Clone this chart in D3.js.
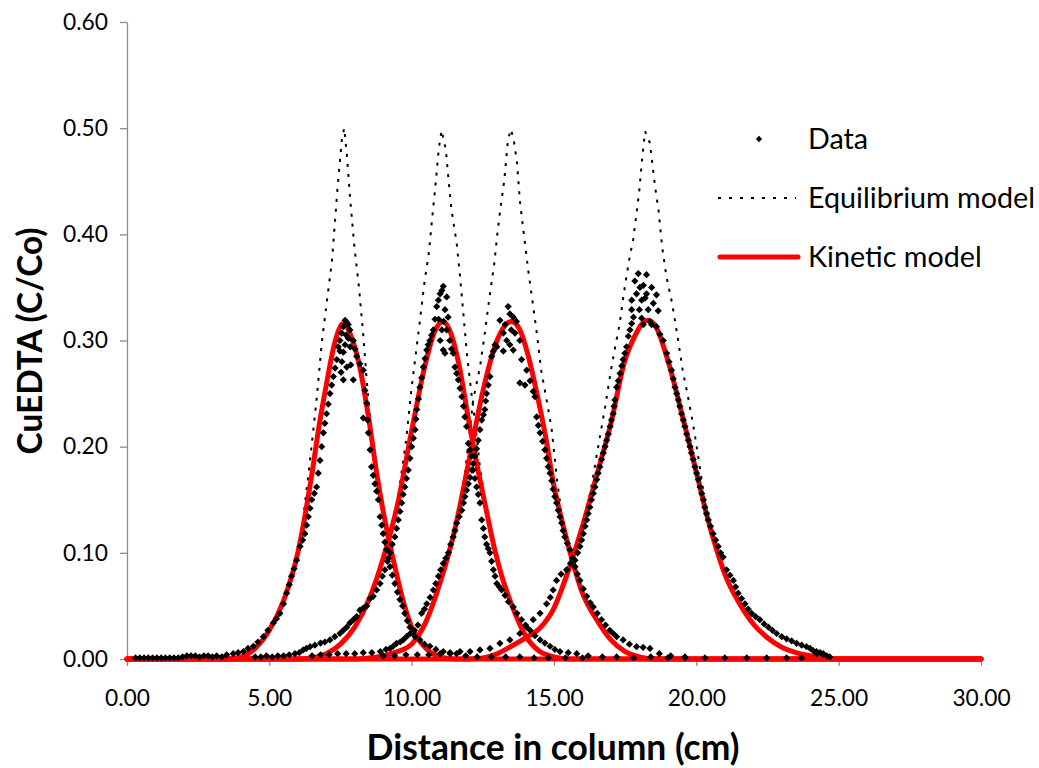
<!DOCTYPE html>
<html><head><meta charset="utf-8">
<script src="https://cdn.jsdelivr.net/npm/d3@7"></script>
<style>body{margin:0;background:#fff}svg{display:block}</style>
</head><body>
<svg id="chart" width="1039" height="768"></svg>
<script>
// ---------- data ----------
const xTicks = [0, 5, 10, 15, 20, 25, 30];
const yTicks = [0, 0.1, 0.2, 0.3, 0.4, 0.5, 0.6];
const legendNames = ["Data", "Equilibrium model", "Kinetic model"];
const xTitle = "Distance in column (cm)";
const yTitle = "CuEDTA (C/Co)";

const kinetic1 = [[0,0],[3.5,0],[4.0,0.002],[4.5,0.010],[5.0,0.027],[5.5,0.055],[6.0,0.100],[6.5,0.175],[6.75,0.220],[7.0,0.258],[7.3,0.298],[7.6,0.316],[7.9,0.302],[8.2,0.272],[8.5,0.225],[8.8,0.170],[9.1,0.125],[9.4,0.088],[9.7,0.055],[10.0,0.030],[10.5,0.010],[11.0,0.002],[11.5,0],[30,0]];
const kinetic2 = [[0,0],[6.0,0],[6.5,0.001],[7.0,0.005],[7.5,0.014],[8.0,0.030],[8.5,0.056],[9.0,0.095],[9.5,0.145],[10.0,0.215],[10.5,0.280],[10.8,0.308],[11.1,0.318],[11.4,0.305],[11.7,0.272],[12.0,0.225],[12.3,0.182],[12.6,0.143],[12.9,0.105],[13.2,0.075],[13.5,0.052],[14.0,0.022],[14.5,0.007],[15.0,0.002],[15.5,0],[30,0]];
const kinetic3 = [[0,0],[8.0,0],[8.5,0.001],[9.0,0.003],[9.5,0.007],[10.0,0.014],[10.5,0.035],[11.0,0.072],[11.5,0.120],[12.0,0.185],[12.5,0.252],[13.0,0.300],[13.5,0.318],[13.8,0.310],[14.1,0.285],[14.4,0.250],[14.7,0.210],[15.0,0.163],[15.3,0.128],[15.6,0.097],[16.0,0.062],[16.5,0.037],[17.0,0.018],[17.5,0.007],[18.0,0.002],[18.5,0],[30,0]];
const kinetic4 = [[0,0],[12.0,0],[12.5,0.001],[13.0,0.005],[13.5,0.012],[14.0,0.020],[14.5,0.029],[15.0,0.048],[15.5,0.083],[16.0,0.125],[16.5,0.173],[17.0,0.222],[17.5,0.282],[17.8,0.302],[18.1,0.316],[18.3,0.319],[18.6,0.312],[18.9,0.290],[19.2,0.262],[19.5,0.230],[19.8,0.198],[20.1,0.165],[20.4,0.132],[20.7,0.104],[21.0,0.080],[21.5,0.053],[22.0,0.033],[22.5,0.020],[23.0,0.011],[23.5,0.006],[24.0,0.003],[24.5,0.001],[25.0,0],[30,0]];

const equil1 = [[3.5,0],[4.0,0.002],[4.5,0.010],[5.0,0.027],[5.5,0.055],[6.0,0.100],[6.2,0.135],[6.4,0.180],[6.66,0.244],[6.85,0.300],[7.0,0.332],[7.2,0.375],[7.4,0.445],[7.55,0.490],[7.63,0.500],[7.72,0.476],[7.85,0.430],[8.0,0.385],[8.15,0.350],[8.3,0.305],[8.42,0.263],[8.55,0.222],[8.7,0.185],[8.85,0.162],[9.1,0.125],[9.4,0.088],[9.7,0.055],[10.0,0.030],[10.5,0.010],[11.0,0.002],[11.5,0]];
const equil2 = [[6.0,0],[6.5,0.001],[7.0,0.005],[7.5,0.014],[8.0,0.030],[8.5,0.056],[9.0,0.095],[9.5,0.148],[9.8,0.205],[10.0,0.256],[10.25,0.310],[10.45,0.355],[10.6,0.382],[10.72,0.415],[10.85,0.450],[10.95,0.480],[11.05,0.498],[11.2,0.480],[11.3,0.450],[11.4,0.423],[11.58,0.392],[11.7,0.360],[11.82,0.324],[11.95,0.285],[12.1,0.250],[12.22,0.225],[12.4,0.180],[12.6,0.145],[12.9,0.105],[13.2,0.075],[13.5,0.052],[14.0,0.022],[14.5,0.007],[15.0,0.002],[15.5,0]];
const equil3 = [[8.0,0],[8.5,0.001],[9.0,0.003],[9.5,0.007],[10.0,0.014],[10.5,0.035],[11.0,0.072],[11.5,0.122],[11.85,0.170],[12.0,0.205],[12.16,0.244],[12.4,0.275],[12.57,0.307],[12.75,0.344],[12.9,0.372],[13.0,0.398],[13.12,0.425],[13.25,0.450],[13.38,0.488],[13.48,0.499],[13.58,0.490],[13.7,0.468],[13.8,0.432],[13.95,0.398],[14.1,0.365],[14.27,0.332],[14.4,0.306],[14.55,0.272],[14.8,0.235],[14.92,0.216],[15.1,0.170],[15.3,0.130],[15.6,0.097],[16.0,0.062],[16.5,0.037],[17.0,0.018],[17.5,0.007],[18.0,0.002],[18.5,0]];
const equil4 = [[12.0,0],[12.5,0.001],[13.0,0.005],[13.5,0.012],[14.0,0.020],[14.5,0.029],[15.0,0.048],[15.5,0.083],[16.0,0.125],[16.3,0.160],[16.61,0.209],[16.8,0.238],[17.0,0.272],[17.15,0.294],[17.32,0.318],[17.45,0.344],[17.64,0.376],[17.78,0.395],[17.9,0.420],[18.0,0.442],[18.08,0.467],[18.2,0.497],[18.37,0.486],[18.55,0.445],[18.67,0.423],[18.8,0.388],[18.95,0.360],[19.15,0.335],[19.35,0.302],[19.52,0.272],[19.7,0.248],[19.9,0.219],[20.07,0.190],[20.3,0.148],[20.5,0.122],[20.7,0.104],[21.0,0.080],[21.5,0.053],[22.0,0.033],[22.5,0.020],[23.0,0.011],[23.5,0.006],[24.0,0.003],[24.5,0.001],[25.0,0]];

const data1 = [[0.3,0.001],[0.45,0.001],[0.6,0.001],[0.75,0.001],[0.9,0.001],[1.05,0.001],[1.2,0.001],[1.35,0.001],[1.5,0.001],[1.65,0.001],[1.8,0.001],[1.95,0.002],[2.1,0.003],[2.25,0.003],[2.4,0.003],[2.55,0.002],[2.7,0.003],[2.85,0.003],[3.0,0.002],[3.15,0.003],[3.33,0.002],[3.5,0.004],[3.73,0.005],[3.9,0.006],[4.09,0.007],[4.25,0.010],[4.44,0.012],[4.6,0.016],[4.79,0.021],[4.95,0.027],[5.14,0.034],[5.25,0.038],[5.37,0.043],[5.5,0.052],[5.61,0.062],[5.7,0.070],[5.78,0.078],[5.87,0.085],[5.96,0.093],[6.08,0.106],[6.17,0.112],[6.25,0.118],[6.31,0.126],[6.37,0.134],[6.43,0.142],[6.49,0.150],[6.58,0.156],[6.66,0.162],[6.72,0.175],[6.78,0.187],[6.84,0.200],[6.90,0.213],[6.95,0.222],[7.01,0.231],[7.07,0.240],[7.13,0.250],[7.19,0.258],[7.25,0.266],[7.31,0.274],[7.37,0.282],[7.42,0.294],[7.48,0.300],[7.54,0.307],[7.60,0.313],[7.66,0.319],[7.72,0.317],[7.77,0.315],[7.83,0.310],[7.60,0.263],[7.95,0.263],[7.72,0.275],[7.86,0.277],[7.60,0.289],[7.84,0.294],[7.48,0.290],[7.55,0.280],[7.66,0.296],[7.78,0.302],[7.70,0.305],[7.52,0.270],[7.95,0.300],[8.01,0.292],[8.07,0.285],[8.18,0.278],[8.30,0.272],[8.36,0.253],[8.42,0.241],[8.30,0.227],[8.45,0.225],[8.48,0.213],[8.54,0.197],[8.59,0.181],[8.65,0.173],[8.71,0.165],[8.77,0.158],[8.83,0.150],[8.89,0.134],[8.95,0.126],[9.00,0.118],[9.06,0.110],[9.12,0.103],[9.18,0.095],[9.24,0.087],[9.32,0.079],[9.41,0.071],[9.50,0.063],[9.59,0.056],[9.68,0.050],[9.76,0.043],[9.85,0.036],[9.94,0.030],[10.03,0.025],[10.12,0.021],[10.29,0.018],[10.45,0.014],[10.64,0.012],[10.85,0.009],[11.11,0.007],[11.35,0.006],[11.58,0.005],[11.9,0.003],[12.3,0.002],[12.8,0.002],[13.3,0.002],[13.8,0.002],[14.3,0.001],[14.8,0.001],[15.4,0.001],[16.0,0.001]];
const data2 = [[4.5,0.002],[4.7,0.002],[4.9,0.003],[5.1,0.002],[5.3,0.003],[5.5,0.003],[5.7,0.004],[5.9,0.005],[6.05,0.006],[6.19,0.0085],[6.3,0.010],[6.43,0.0116],[6.6,0.013],[6.8,0.015],[6.95,0.016],[7.13,0.018],[7.3,0.021],[7.48,0.024],[7.6,0.027],[7.72,0.030],[7.83,0.034],[7.95,0.037],[8.07,0.040],[8.18,0.046],[8.30,0.048],[8.42,0.050],[8.54,0.057],[8.65,0.059],[8.77,0.065],[8.89,0.071],[8.97,0.078],[9.06,0.084],[9.15,0.092],[9.24,0.100],[9.32,0.108],[9.41,0.115],[9.47,0.123],[9.53,0.131],[9.59,0.139],[9.65,0.147],[9.70,0.155],[9.76,0.162],[9.82,0.170],[9.88,0.178],[9.94,0.189],[10.0,0.200],[10.06,0.208],[10.12,0.216],[10.15,0.226],[10.18,0.235],[10.24,0.245],[10.29,0.256],[10.35,0.265],[10.41,0.275],[10.47,0.283],[10.53,0.291],[10.58,0.296],[10.64,0.300],[10.70,0.305],[10.76,0.310],[10.82,0.320],[10.88,0.332],[10.94,0.338],[11.0,0.344],[11.06,0.347],[11.11,0.351],[11.06,0.310],[11.23,0.310],[11.11,0.291],[11.17,0.288],[11.17,0.329],[11.23,0.341],[10.95,0.320],[11.0,0.300],[11.28,0.322],[11.12,0.318],[11.34,0.300],[11.40,0.292],[11.46,0.288],[11.52,0.275],[11.58,0.269],[11.64,0.263],[11.70,0.255],[11.76,0.247],[11.82,0.238],[11.87,0.228],[11.93,0.219],[11.99,0.203],[12.05,0.197],[12.11,0.191],[12.16,0.178],[12.22,0.170],[12.28,0.162],[12.34,0.155],[12.40,0.147],[12.46,0.131],[12.52,0.123],[12.57,0.115],[12.63,0.108],[12.69,0.104],[12.75,0.100],[12.81,0.092],[12.87,0.084],[12.93,0.078],[12.99,0.071],[13.08,0.068],[13.16,0.065],[13.28,0.060],[13.40,0.054],[13.57,0.049],[13.70,0.043],[13.86,0.037],[14.0,0.032],[14.16,0.027],[14.33,0.022],[14.51,0.018],[14.68,0.015],[14.86,0.012],[15.03,0.009],[15.21,0.007],[15.5,0.006],[15.8,0.005],[16.2,0.003],[16.7,0.002],[17.2,0.002],[17.8,0.001],[18.4,0.002],[19.0,0.001],[19.6,0.001]];
const data3 = [[6.5,0.003],[6.8,0.004],[7.1,0.004],[7.4,0.005],[7.7,0.005],[8.0,0.005],[8.3,0.006],[8.6,0.006],[8.9,0.007],[9.1,0.009],[9.24,0.010],[9.35,0.012],[9.47,0.0148],[9.6,0.016],[9.7,0.018],[9.82,0.021],[9.95,0.024],[10.1,0.027],[10.22,0.032],[10.35,0.043],[10.45,0.047],[10.53,0.052],[10.65,0.058],[10.76,0.065],[10.85,0.071],[10.94,0.078],[11.02,0.084],[11.11,0.090],[11.2,0.095],[11.29,0.100],[11.37,0.108],[11.46,0.115],[11.52,0.121],[11.58,0.128],[11.67,0.134],[11.76,0.140],[11.82,0.147],[11.87,0.153],[11.93,0.159],[11.99,0.165],[12.05,0.171],[12.11,0.178],[12.16,0.184],[12.22,0.191],[12.28,0.198],[12.34,0.206],[12.40,0.216],[12.46,0.225],[12.52,0.230],[12.57,0.235],[12.60,0.243],[12.63,0.250],[12.69,0.258],[12.75,0.266],[12.81,0.285],[12.87,0.290],[12.93,0.296],[12.99,0.294],[13.10,0.319],[13.22,0.307],[13.22,0.290],[13.34,0.300],[13.39,0.332],[13.45,0.325],[13.57,0.322],[13.57,0.291],[13.63,0.307],[13.28,0.315],[13.5,0.310],[13.68,0.318],[13.80,0.300],[13.45,0.296],[13.86,0.282],[13.80,0.260],[13.98,0.258],[14.04,0.272],[14.16,0.262],[14.27,0.252],[14.33,0.247],[14.39,0.228],[14.45,0.220],[14.51,0.213],[14.6,0.205],[14.68,0.197],[14.74,0.189],[14.80,0.181],[14.86,0.175],[14.92,0.168],[14.97,0.160],[15.03,0.153],[15.09,0.147],[15.15,0.140],[15.21,0.134],[15.27,0.128],[15.32,0.121],[15.38,0.115],[15.47,0.109],[15.56,0.103],[15.65,0.095],[15.74,0.087],[15.82,0.080],[15.91,0.074],[16.03,0.066],[16.15,0.059],[16.27,0.053],[16.38,0.049],[16.52,0.043],[16.67,0.037],[16.81,0.032],[16.96,0.027],[17.08,0.024],[17.20,0.021],[17.43,0.018],[17.65,0.014],[17.90,0.0116],[18.13,0.011],[18.37,0.010],[18.7,0.005],[19.1,0.003],[19.6,0.002],[20.3,0.001],[21.0,0.001],[21.77,0.001],[22.47,0.001],[23.17,0.001],[23.7,0.001]];
const data4 = [[9.0,0.003],[9.4,0.003],[9.8,0.004],[10.2,0.004],[10.6,0.004],[11.0,0.005],[11.35,0.005],[11.7,0.007],[12.05,0.007],[12.40,0.0085],[12.75,0.010],[13.10,0.0148],[13.45,0.018],[13.80,0.024],[14.04,0.030],[14.27,0.037],[14.51,0.043],[14.74,0.052],[14.87,0.058],[14.97,0.065],[15.09,0.074],[15.25,0.080],[15.44,0.084],[15.58,0.090],[15.74,0.093],[15.83,0.100],[15.91,0.106],[15.97,0.112],[16.03,0.118],[16.09,0.125],[16.15,0.131],[16.20,0.137],[16.26,0.143],[16.32,0.150],[16.38,0.156],[16.44,0.162],[16.50,0.169],[16.55,0.175],[16.61,0.181],[16.67,0.188],[16.73,0.194],[16.79,0.200],[16.85,0.206],[16.91,0.212],[16.97,0.219],[17.02,0.225],[17.08,0.231],[17.11,0.238],[17.14,0.244],[17.20,0.256],[17.26,0.262],[17.32,0.269],[17.38,0.276],[17.43,0.282],[17.49,0.288],[17.55,0.294],[17.61,0.304],[17.67,0.310],[17.73,0.316],[17.79,0.322],[17.73,0.329],[17.73,0.338],[17.84,0.356],[17.90,0.344],[17.96,0.363],[18.0,0.329],[18.08,0.321],[18.08,0.338],[18.14,0.352],[18.14,0.315],[18.25,0.362],[18.25,0.344],[18.31,0.329],[18.37,0.318],[18.43,0.350],[18.43,0.315],[18.49,0.335],[18.6,0.343],[18.66,0.328],[18.2,0.340],[18.02,0.350],[18.60,0.313],[18.72,0.306],[18.84,0.300],[18.96,0.288],[19.04,0.280],[19.13,0.272],[19.19,0.264],[19.25,0.256],[19.31,0.250],[19.37,0.244],[19.42,0.238],[19.48,0.231],[19.54,0.225],[19.60,0.219],[19.66,0.212],[19.72,0.206],[19.78,0.200],[19.83,0.194],[19.89,0.188],[19.95,0.181],[20.01,0.175],[20.07,0.169],[20.13,0.162],[20.19,0.156],[20.25,0.150],[20.30,0.143],[20.36,0.137],[20.42,0.131],[20.50,0.125],[20.59,0.118],[20.68,0.112],[20.77,0.106],[20.85,0.100],[20.94,0.096],[21.06,0.084],[21.18,0.079],[21.30,0.074],[21.38,0.068],[21.47,0.062],[21.59,0.057],[21.71,0.052],[21.82,0.047],[21.94,0.043],[22.08,0.040],[22.23,0.037],[22.38,0.033],[22.53,0.030],[22.67,0.027],[22.82,0.024],[23.0,0.021],[23.17,0.019],[23.35,0.017],[23.52,0.0148],[23.70,0.013],[23.87,0.0116],[24.0,0.010],[24.1,0.008],[24.22,0.007],[24.22,0.005],[24.35,0.006],[24.46,0.004],[24.46,0.005],[24.58,0.003],[24.69,0.002]];

const kineticSeries = [kinetic1, kinetic2, kinetic3, kinetic4];
const equilSeries = [equil1, equil2, equil3, equil4];
const dataSeries = [data1, data2, data3, data4];

// ---------- drawing ----------
const FONT = "Lato, 'Open Sans', sans-serif";
const svg = d3.select("#chart");
const x = d3.scaleLinear().domain([0, 30]).range([127, 981]);
const y = d3.scaleLinear().domain([0, 0.6]).range([659, 22]);

function fit(sel, target) {
  const node = sel.node();
  const fs = parseFloat(sel.attr("font-size"));
  const w = node.getComputedTextLength();
  if (w > 0) sel.attr("font-size", (fs * target / w).toFixed(2));
}

// axes
const yAxis = svg.append("g").attr("transform", "translate(127,0)")
  .call(d3.axisLeft(y).tickValues(yTicks).tickFormat(d3.format(".2f")).tickSize(7).tickPadding(12).tickSizeOuter(0));
const xAxis = svg.append("g").attr("transform", "translate(0,659)")
  .call(d3.axisBottom(x).tickValues(xTicks).tickFormat(d3.format(".2f")).tickSize(7).tickPadding(24).tickSizeOuter(0));
[yAxis, xAxis].forEach(g => {
  g.select(".domain").attr("stroke", "#8c8c8c").attr("stroke-width", 1.3);
  g.selectAll(".tick line").attr("stroke", "#8c8c8c").attr("stroke-width", 1.3);
  g.selectAll(".tick text").attr("font-family", FONT).attr("font-size", 20).attr("fill", "#000");
});
{
  const t = yAxis.select(".tick text");
  const w = t.node().getComputedTextLength();
  const fs = 20 * 45 / w;
  svg.selectAll(".tick text").attr("font-size", fs.toFixed(2));
}

const DASH = "3,7";
// equilibrium model (dotted)
const line = d3.line().x(d => x(d[0])).y(d => y(d[1])).curve(d3.curveMonotoneX);
const lineLin = d3.line().x(d => x(d[0])).y(d => y(d[1]));
svg.append("g").selectAll("path").data(equilSeries).join("path")
  .attr("d", lineLin).attr("fill", "none").attr("stroke", "#000")
  .attr("stroke-width", 2).attr("stroke-dasharray", DASH);

// kinetic model (red)
svg.append("g").selectAll("path").data(kineticSeries).join("path")
  .attr("d", line).attr("fill", "none").attr("stroke", "#ff0000")
  .attr("stroke-width", 5).attr("stroke-linejoin", "round").attr("stroke-linecap", "round");

// data (diamonds)
const diamond = d3.symbol().type(d3.symbolSquare).size(26);
svg.append("g").selectAll("path").data(dataSeries.flat()).join("path")
  .attr("d", diamond)
  .attr("transform", d => `translate(${x(d[0])},${y(d[1])}) rotate(45)`)
  .attr("fill", "#000");

// legend
const lg = svg.append("g");
lg.append("path").attr("d", d3.symbol().type(d3.symbolSquare).size(20)).attr("transform", "translate(759,139) rotate(45)").attr("fill", "#000");
lg.append("line").attr("x1", 718).attr("x2", 796).attr("y1", 198).attr("y2", 198)
  .attr("stroke", "#000").attr("stroke-width", 2).attr("stroke-dasharray", "3,8");
lg.append("line").attr("x1", 720).attr("x2", 798).attr("y1", 257).attr("y2", 257)
  .attr("stroke", "#ff0000").attr("stroke-width", 5).attr("stroke-linecap", "round");
const legendY = [139, 198, 257];
const lt = lg.selectAll("text").data(legendNames).join("text")
  .attr("x", 808).attr("y", (d, i) => legendY[i]).attr("dy", "0.35em")
  .attr("font-family", FONT).attr("font-size", 24).attr("fill", "#000").text(d => d);
fit(lg.selectAll("text").filter((d, i) => i === 1), 227);
const lfs = lg.selectAll("text").filter((d, i) => i === 1).attr("font-size");
lt.attr("font-size", lfs);

// axis titles
const xt = svg.append("text").attr("x", 553).attr("y", 748).attr("dy", "0.35em")
  .attr("text-anchor", "middle").attr("font-family", FONT).attr("font-weight", "bold")
  .attr("font-size", 28).attr("fill", "#000").text(xTitle);
fit(xt, 373);
const yt = svg.append("text").attr("transform", "translate(30,341) rotate(-90)").attr("dy", "0.35em")
  .attr("text-anchor", "middle").attr("font-family", FONT).attr("font-weight", "bold")
  .attr("font-size", 28).attr("fill", "#000").text(yTitle);
fit(yt, 227);
</script>
</body></html>
